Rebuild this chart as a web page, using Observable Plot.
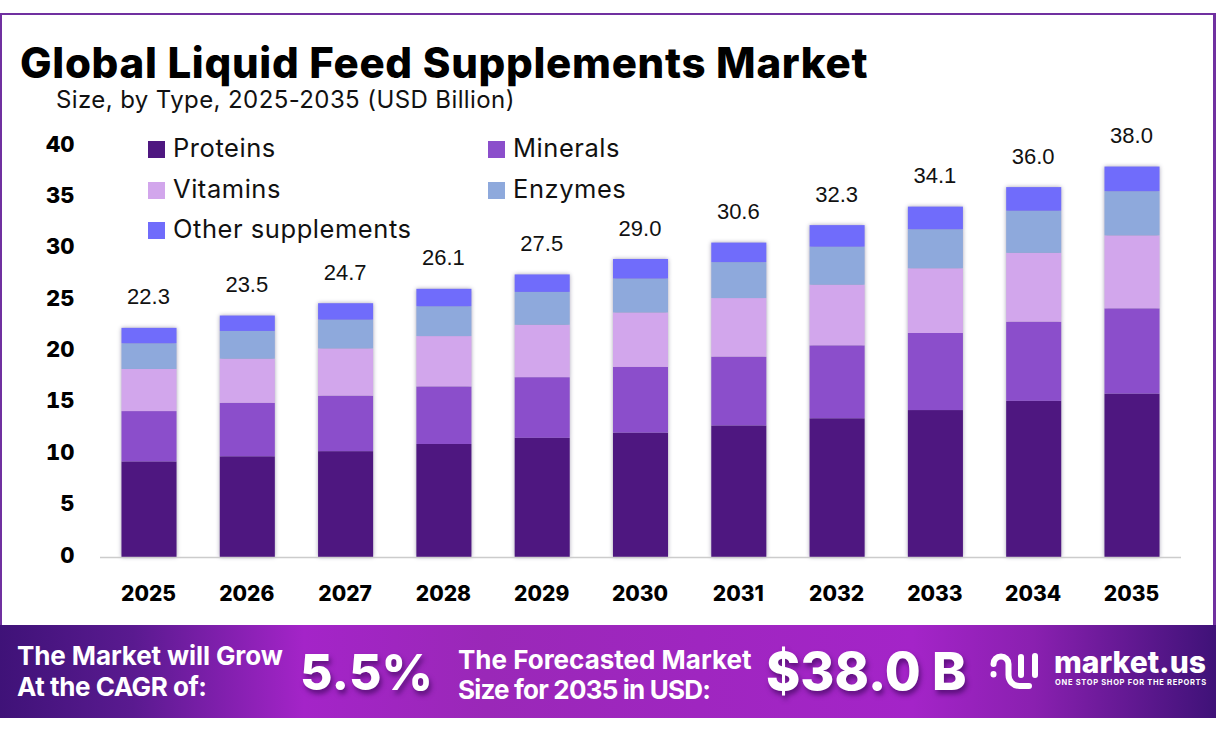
<!DOCTYPE html>
<html>
<head>
<meta charset="utf-8">
<script src="https://cdn.jsdelivr.net/npm/d3@7"></script>
<script src="https://cdn.jsdelivr.net/npm/@observablehq/plot@0.6"></script>
<style>
html,body{margin:0;padding:0;background:#fff;width:1216px;height:737px;overflow:hidden;font-family:Inter,sans-serif;}
#frame{position:absolute;left:0;top:13px;width:1216px;height:612px;box-sizing:border-box;border:2px solid #7030a0;border-bottom:none;border-right-width:3px;}
#title{position:absolute;left:20px;top:42px;font:800 42px/42px Inter;color:#000;white-space:nowrap;letter-spacing:.7px;}
#sub{position:absolute;left:56px;top:88px;font:400 24px/24px Inter;color:#111;white-space:nowrap;letter-spacing:.4px;}
#chart{position:absolute;left:0;top:120px;}
#chart g[aria-label="bar"]{filter:drop-shadow(0 0 2px rgba(60,50,90,.45));}
.lg{position:absolute;font:400 25.5px/30px Inter;color:#111;white-space:nowrap;letter-spacing:.55px;}
.sw{position:absolute;width:17px;height:17px;}
#banner{position:absolute;left:0;top:625px;width:1216px;height:93px;background:linear-gradient(90deg,#3f1278 0%,#5a1a90 11%,#a424c8 25%,#9a28b8 40%,#a424c8 75%,#8a20b0 85%,#3f1278 100%);}
#banner div{position:absolute;color:#fff;white-space:nowrap;}
.bt{font:700 26px/30px Inter;}
.big{font:800 50px/60px Inter;text-shadow:2px 4px 5px rgba(40,0,70,.55);}
</style>
</head>
<body>
<div id="frame"></div>
<div id="title">Global Liquid Feed Supplements Market</div>
<div id="sub">Size, by Type, 2025-2035 (USD Billion)</div>
<div id="chart"></div>
<div id="legend"></div>
<div id="banner">
  <div class="bt" style="left:17px;top:16px;letter-spacing:-.1px">The Market will Grow</div>
  <div class="bt" style="left:17px;top:47px;letter-spacing:-.45px">At the CAGR of:</div>
  <div class="big" style="left:300px;top:17px">5.5%</div>
  <div class="bt" style="left:458px;top:20px">The Forecasted Market</div>
  <div class="bt" style="left:458px;top:50px;letter-spacing:-.8px">Size for 2035 in USD:</div>
  <div class="big" style="left:766px;top:17px;font-size:52px">$38.0 B</div>
  <svg style="position:absolute;left:990px;top:26px;overflow:visible" width="54" height="40" viewBox="0 0 54 40" fill="none" stroke="#fff" stroke-width="6" stroke-linecap="round">
    <path d="M3.5 23v.5M3.5 13a7.5 7.5 0 0 1 15 0V24a11 11 0 0 0 11 11H39M31 6V24M45 5V24"/>
  </svg>
  <div style="left:1054px;top:17px;font:800 30px/40px Inter">market.us</div>
  <div style="left:1055px;top:53px;font:700 7.5px/10px Inter;letter-spacing:.7px">ONE STOP SHOP FOR THE REPORTS</div>
</div>
<script>
const years = ["2025","2026","2027","2028","2029","2030","2031","2032","2033","2034","2035"];
const totals = [22.3,23.5,24.7,26.1,27.5,29.0,30.6,32.3,34.1,36.0,38.0];
const proteins = [9.3,9.8,10.3,11.0,11.6,12.1,12.8,13.5,14.3,15.2,15.9];
const minerals = [4.9,5.2,5.4,5.6,5.9,6.4,6.7,7.1,7.5,7.7,8.3];
const vitamins = [4.1,4.3,4.6,4.9,5.1,5.3,5.7,5.9,6.3,6.7,7.1];
const enzymes = [2.5,2.7,2.8,2.9,3.2,3.3,3.5,3.7,3.8,4.1,4.3];
const others = [1.5,1.5,1.6,1.7,1.7,1.9,1.9,2.1,2.2,2.3,2.4];
const typeNames = ["Proteins","Minerals","Vitamins","Enzymes","Other supplements"];
const typeColors = ["#4e1780","#8b4ecb","#d2a6ec","#8ea9dc","#706cfb"];
const yTicks = [0,5,10,15,20,25,30,35,40];
const series = [proteins,minerals,vitamins,enzymes,others];
const rows = series.flatMap((vals,i)=>vals.map((v,j)=>({year:years[j],type:typeNames[i],value:v})));
const labels = years.map((y,i)=>({year:y,total:totals[i]}));

const svg = Plot.plot({
  width:1216,height:500,
  marginLeft:100,marginRight:35,marginTop:26,marginBottom:63,
  style:{background:"transparent",overflow:"visible"},
  x:{domain:years,paddingInner:.44,paddingOuter:.2185,round:false,label:null},
  y:{domain:[0,40],label:null},
  color:{domain:typeNames,range:typeColors},
  marks:[
    Plot.barY(rows,{x:"year",y:"value",fill:"type",order:typeNames}),
    Plot.ruleY([0],{stroke:"#ccc",strokeWidth:1.5}),
    Plot.axisY({ticks:yTicks,tickSize:0,tickPadding:0,dx:-26,dy:-2,fontSize:22,fontWeight:800,fontFamily:"Inter",fill:"#000",label:null,textAnchor:"end",tickFormat:String}),
    Plot.axisX({tickSize:0,tickPadding:0,dy:29,dx:-1,fontSize:21,fontWeight:800,fontFamily:"Inter",fill:"#000",label:null}),
    Plot.text(labels,{x:"year",y:"total",text:d=>d.total.toFixed(1),dy:-31,dx:-1,fontSize:22,fontFamily:"Liberation Sans",fill:"#111"})
  ]
});
document.getElementById("chart").append(svg);

const lgPos = [[148,141],[488,141],[148,182],[488,182],[148,222]];
const lg = document.getElementById("legend");
typeNames.forEach((n,i)=>{
  const [x,y]=lgPos[i];
  const s=document.createElement("div");s.className="sw";s.style.cssText=`left:${x}px;top:${y}px;background:${typeColors[i]}`;lg.append(s);
  const t=document.createElement("div");t.className="lg";t.textContent=n;t.style.left=(x+25)+"px";t.style.top=(y-8)+"px";lg.append(t);
});
</script>
</body>
</html>
